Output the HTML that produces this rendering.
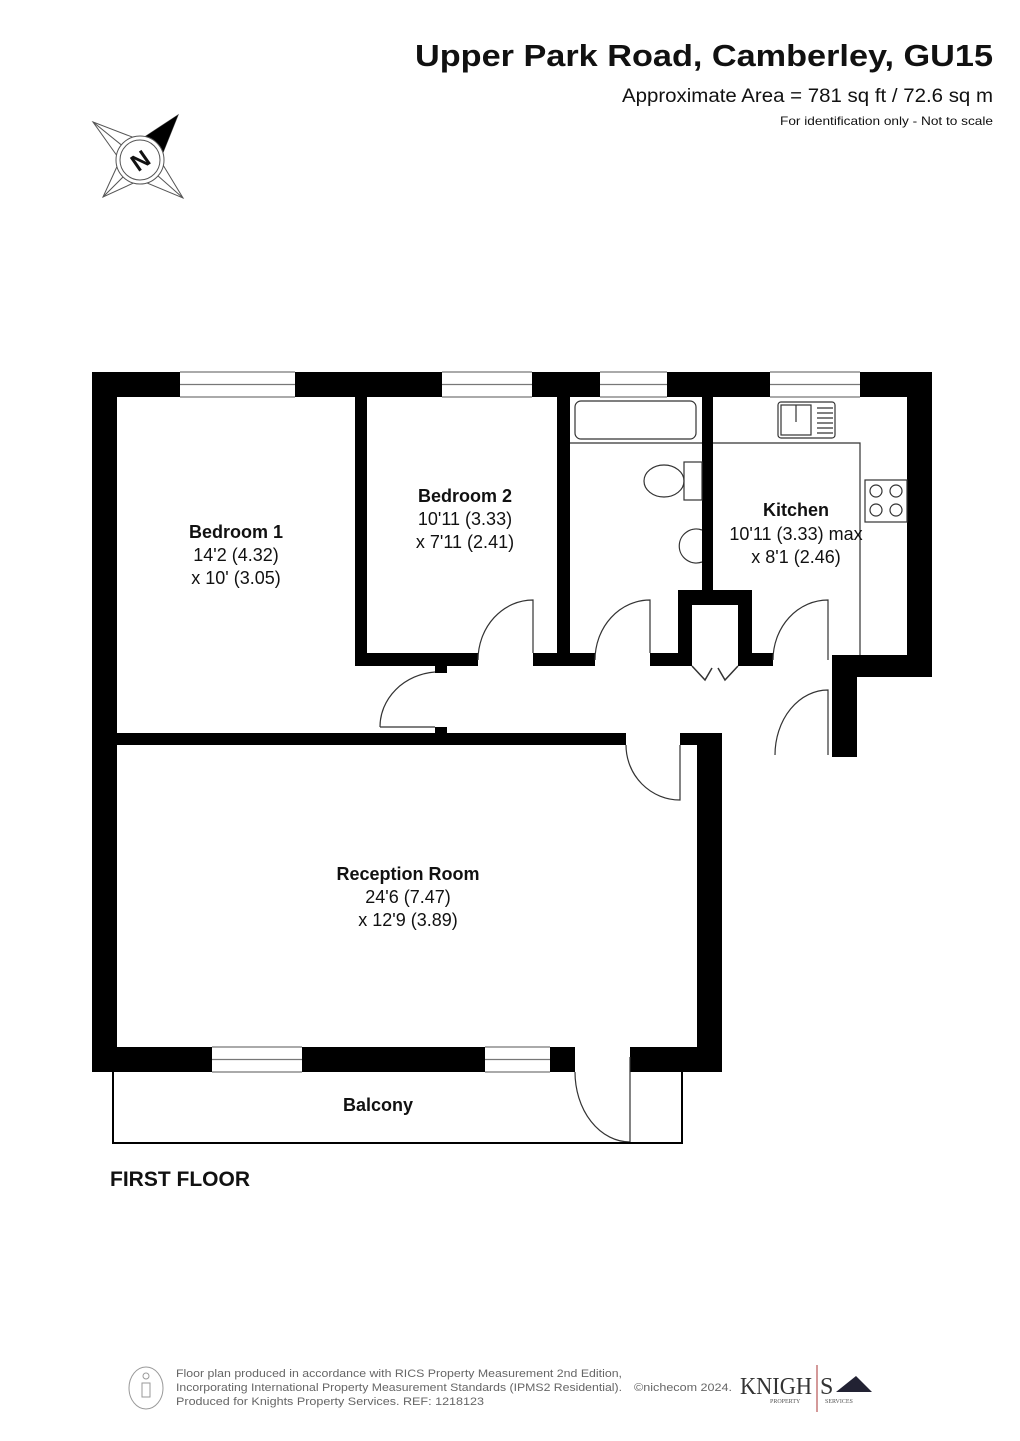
<!DOCTYPE html>
<html><head><meta charset="utf-8"><style>
html,body{margin:0;padding:0;background:#fff}
svg{display:block}
text{font-family:"Liberation Sans",Arial,sans-serif;fill:#111}
.b{font-weight:bold}
</style></head><body>
<svg width="1020" height="1441" viewBox="0 0 1020 1441" xmlns="http://www.w3.org/2000/svg">
<!-- header -->
<text x="993" y="66" text-anchor="end" class="b" font-size="31" textLength="578" lengthAdjust="spacingAndGlyphs">Upper Park Road, Camberley, GU15</text>
<text x="993" y="102" text-anchor="end" font-size="19" textLength="371" lengthAdjust="spacingAndGlyphs">Approximate Area = 781 sq ft / 72.6 sq m</text>
<text x="993" y="125" text-anchor="end" font-size="12" textLength="213" lengthAdjust="spacingAndGlyphs">For identification only - Not to scale</text>
<!-- compass -->
<g stroke="#555" stroke-width="1" fill="none">
<polygon points="93,122 140,140 178,115 160,160 183,198 140,180 103,197 120,160"/>
<path d="M93,122 L140,160 M183,198 L140,160 M103,197 L140,160"/>
</g>
<polygon points="178,115 140,140 160,160" fill="#000"/>
<circle cx="140" cy="160" r="24" fill="#fff" stroke="#555"/>
<circle cx="140" cy="160" r="20" fill="none" stroke="#555"/>
<text x="140" y="169" text-anchor="middle" class="b" font-size="24" transform="rotate(-35 140 160)">N</text>
<!-- walls -->
<g fill="#000">
<rect x="92" y="372" width="88" height="25"/>
<rect x="295" y="372" width="147" height="25"/>
<rect x="532" y="372" width="68" height="25"/>
<rect x="667" y="372" width="103" height="25"/>
<rect x="860" y="372" width="72" height="25"/>
<rect x="92" y="372" width="25" height="700"/>
<rect x="907" y="372" width="25" height="305"/>
<rect x="832" y="655" width="100" height="22"/>
<rect x="832" y="655" width="25" height="102"/>
<rect x="355" y="397" width="12" height="269"/>
<rect x="355" y="653" width="123" height="13"/>
<rect x="533" y="653" width="62" height="13"/>
<rect x="557" y="397" width="13" height="269"/>
<rect x="650" y="653" width="30" height="13"/>
<rect x="702" y="397" width="11" height="195"/>
<rect x="678" y="590" width="74" height="15"/>
<rect x="678" y="590" width="14" height="76"/>
<rect x="738" y="590" width="14" height="76"/>
<rect x="738" y="653" width="35" height="13"/>
<rect x="435" y="666" width="12" height="7"/>
<rect x="435" y="727" width="12" height="8"/>
<rect x="92" y="733" width="534" height="12"/>
<rect x="680" y="733" width="42" height="12"/>
<rect x="697" y="733" width="25" height="339"/>
<rect x="92" y="1047" width="120" height="25"/>
<rect x="302" y="1047" width="183" height="25"/>
<rect x="550" y="1047" width="25" height="25"/>
<rect x="630" y="1047" width="92" height="25"/>
</g>
<!-- windows -->
<g stroke="#777" stroke-width="1.2" fill="none">
<path d="M180,372H295M180,384.5H295M180,397H295"/>
<path d="M442,372H532M442,384.5H532M442,397H532"/>
<path d="M600,372H667M600,384.5H667M600,397H667"/>
<path d="M770,372H860M770,384.5H860M770,397H860"/>
<path d="M212,1047H302M212,1059.5H302M212,1072H302"/>
<path d="M485,1047H550M485,1059.5H550M485,1072H550"/>
</g>
<!-- doors -->
<g stroke="#333" stroke-width="1.2" fill="none">
<path d="M478,660 A55,60 0 0 1 533,600 V653"/>
<path d="M595,660 A55,60 0 0 1 650,600 V653"/>
<path d="M773,660 A55,60 0 0 1 828,600 V660"/>
<path d="M380,727 H435 M380,727 A60,55 0 0 1 435,672"/>
<path d="M626,745 A54,55 0 0 0 680,800 V745"/>
<path d="M775,755 A53,65 0 0 1 828,690 V755"/>
<path d="M575,1072 A55,70 0 0 0 630,1142 V1057"/>
<path d="M692,666 L705,680 L712,668 M738,666 L725,680 L718,668" stroke-width="1.5"/>
<path d="M713,443 H860 V655"/>
<path d="M570,443 H702"/>
<rect x="575" y="401" width="121" height="38" rx="6"/>
<rect x="778" y="402" width="57" height="36" rx="3"/>
<rect x="781" y="405" width="30" height="30"/>
<path d="M796,405 V422 M817,408H833M817,413H833M817,418H833M817,423H833M817,428H833M817,433H833"/>
<rect x="865" y="480" width="42" height="42"/>
<circle cx="876" cy="491" r="6"/><circle cx="896" cy="491" r="6"/>
<circle cx="876" cy="510" r="6"/><circle cx="896" cy="510" r="6"/>
<rect x="684" y="462" width="18" height="38"/>
<ellipse cx="664" cy="481" rx="20" ry="16"/>
<path d="M702,530 A17,17 0 1 0 702,562"/>
</g>
<!-- balcony -->
<g stroke="#000" stroke-width="2" fill="none">
<path d="M113,1072 V1143 H682 V1072"/>
</g>
<!-- labels -->
<g text-anchor="middle" font-size="18">
<text x="236" y="538" class="b">Bedroom 1</text>
<text x="236" y="561">14'2 (4.32)</text>
<text x="236" y="584">x 10' (3.05)</text>
<text x="465" y="502" class="b">Bedroom 2</text>
<text x="465" y="525">10'11 (3.33)</text>
<text x="465" y="548">x 7'11 (2.41)</text>
<text x="796" y="516" class="b">Kitchen</text>
<text x="796" y="540">10'11 (3.33) max</text>
<text x="796" y="563">x 8'1 (2.46)</text>
<text x="408" y="880" class="b">Reception Room</text>
<text x="408" y="903">24'6 (7.47)</text>
<text x="408" y="926">x 12'9 (3.89)</text>
<text x="378" y="1111" class="b">Balcony</text>
</g>
<text x="110" y="1186" class="b" font-size="21">FIRST FLOOR</text>
<!-- footer -->
<g stroke="#999" fill="none" stroke-width="1">
<ellipse cx="146" cy="1388" rx="17" ry="21"/>
<circle cx="146" cy="1376" r="3"/>
<path d="M142,1383 h8 v14 h-8 z"/>
</g>
<g font-size="11">
<text x="176" y="1377" fill="#666" style="fill:#666" textLength="446" lengthAdjust="spacingAndGlyphs">Floor plan produced in accordance with RICS Property Measurement 2nd Edition,</text>
<text x="176" y="1391" style="fill:#666" textLength="446" lengthAdjust="spacingAndGlyphs">Incorporating International Property Measurement Standards (IPMS2 Residential).</text>
<text x="176" y="1405" style="fill:#666" textLength="308" lengthAdjust="spacingAndGlyphs">Produced for Knights Property Services.   REF: 1218123</text>
<text x="634" y="1391" style="fill:#666" textLength="98" lengthAdjust="spacingAndGlyphs">©nichecom 2024.</text>
</g>
<text x="740" y="1394" style="font-family:'Liberation Serif',serif;fill:#333" font-size="24" textLength="72" lengthAdjust="spacingAndGlyphs">KNIGH</text>
<text x="820" y="1394" style="font-family:'Liberation Serif',serif;fill:#333" font-size="24">S</text>
<line x1="817" y1="1365" x2="817" y2="1412" stroke="#a33" stroke-width="1"/>
<polygon points="836,1392 856,1376 872,1392" fill="#223"/>
<text x="770" y="1403" style="font-family:'Liberation Serif',serif;fill:#555" font-size="6">PROPERTY</text>
<text x="825" y="1403" style="font-family:'Liberation Serif',serif;fill:#555" font-size="6">SERVICES</text>
</svg>
</body></html>
